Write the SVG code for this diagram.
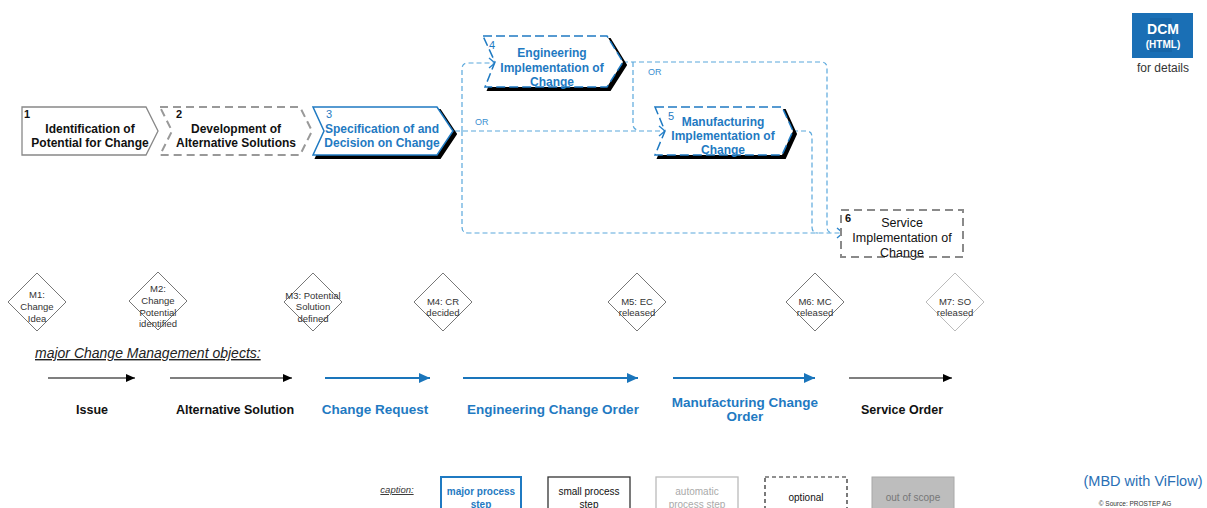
<svg xmlns="http://www.w3.org/2000/svg" width="1207" height="508" viewBox="0 0 1207 508">
<style>
text{font-family:"Liberation Sans",Arial,sans-serif}
.nb{font-size:12px;font-weight:bold;text-anchor:middle;fill:#111}
.nblue{font-size:12px;font-weight:bold;text-anchor:middle;fill:#1f7ac2}
.num{font-size:11px;font-weight:bold;fill:#111}
.numb{font-size:11px;fill:#1f7ac2}
.conn{fill:none;stroke:#5aa8dc;stroke-width:1.2;stroke-dasharray:5 3}
.or{font-size:9px;fill:#3b8fd0}
.dia{fill:#fff;stroke:#777;stroke-width:1}
.mt{font-size:9.5px;text-anchor:middle;fill:#333}
.ol{font-size:12.5px;font-weight:bold;text-anchor:middle;fill:#111}
.olb{font-size:13.5px;font-weight:bold;text-anchor:middle;fill:#1f7ac2}
.cap{font-size:10px;text-anchor:middle}
</style>
<defs>
<marker id="chev" markerWidth="10" markerHeight="12" refX="7" refY="6" orient="auto" markerUnits="userSpaceOnUse">
<path d="M1,1 L7,6 L1,11" fill="none" stroke="#2a85cc" stroke-width="1.4"/>
</marker>
<marker id="blk" markerWidth="10" markerHeight="10" refX="9" refY="5" orient="auto" markerUnits="userSpaceOnUse">
<path d="M0,1 L9,5 L0,9 Z" fill="#000"/>
</marker>
<marker id="blu" markerWidth="12" markerHeight="12" refX="11" refY="6" orient="auto" markerUnits="userSpaceOnUse">
<path d="M0,1 L11,6 L0,11 Z" fill="#1a75bb"/>
</marker>
</defs>
<rect width="1207" height="508" fill="#fff"/>

<g id="connectors">
<path class="conn" d="M455,131 H665" marker-end="url(#chev)"/>
<path class="conn" d="M462,131 V69 Q462,63 468,63 H495" marker-end="url(#chev)"/>
<path class="conn" d="M462,131 V227 Q462,233 468,233 H843" marker-end="url(#chev)"/>
<path class="conn" d="M623,62 H821 Q827,62 827,68 V227 Q827,233 833,233"/>
<path class="conn" d="M633,62 V124 Q633,130 639,130"/>
<path class="conn" d="M793,131 H806 Q812,131 812,137 V227 Q812,233 818,233"/>
<text class="or" x="475" y="125">OR</text>
<text class="or" x="648" y="75">OR</text>
</g>

<g id="node1">
<polygon points="22,107 146,107 158,131 146,155 22,155" fill="#fff" stroke="#888" stroke-width="1.3"/>
<text class="num" x="24" y="118">1</text>
<text class="nb" x="90" y="133">Identification of</text>
<text class="nb" x="90" y="147">Potential for Change</text>
</g>

<g id="node2">
<polygon points="160,107 300,107 312,131 300,155 160,155 172,131" fill="#fff" stroke="#999" stroke-width="2" stroke-dasharray="8 5"/>
<text class="num" x="176" y="118">2</text>
<text class="nb" x="236" y="133">Development of</text>
<text class="nb" x="236" y="147">Alternative Solutions</text>
</g>

<g id="node3">
<polygon points="316,110 440,110 456,134 440,158 316,158 327,134" fill="#000" stroke="#000" stroke-width="2"/>
<polygon points="313,107 437,107 453,131 437,155 313,155 324,131" fill="#fff" stroke="#1f7ac2" stroke-width="1.5"/>
<text class="numb" x="326" y="118">3</text>
<text class="nblue" x="382" y="133">Specification of and</text>
<text class="nblue" x="382" y="147">Decision on Change</text>
</g>

<g id="node4">
<polygon points="486,39 610,39 626,65 610,90 488,90 498,65" fill="#000" stroke="#000" stroke-width="2"/>
<polygon points="483,36 607,36 623,62 607,87 485,87 495,62" fill="#fff" stroke="#1f7ac2" stroke-width="1.5" stroke-dasharray="9 4"/>
<text class="numb" x="489" y="49">4</text>
<text class="nblue" x="552" y="57">Engineering</text>
<text class="nblue" x="552" y="72">Implementation of</text>
<text class="nblue" x="552" y="86">Change</text>
</g>

<g id="node5">
<polygon points="658,110 785,110 796,134 785,158 658,158 668,134" fill="#000" stroke="#000" stroke-width="2"/>
<polygon points="655,107 782,107 793,131 782,155 655,155 665,131" fill="#fff" stroke="#1f7ac2" stroke-width="1.5" stroke-dasharray="9 4"/>
<text class="numb" x="668" y="120">5</text>
<text class="nblue" x="723" y="126">Manufacturing</text>
<text class="nblue" x="723" y="140">Implementation of</text>
<text class="nblue" x="723" y="154">Change</text>
</g>

<g id="node6">
<rect x="841" y="210" width="122" height="47" fill="#fff" stroke="#8a8a8a" stroke-width="2" stroke-dasharray="8 5"/>
<text class="num" x="845" y="222">6</text>
<text x="902" y="227" font-size="12.5" text-anchor="middle" fill="#111">Service</text>
<text x="902" y="242" font-size="12.5" text-anchor="middle" fill="#111">Implementation of</text>
<text x="902" y="257" font-size="12.5" text-anchor="middle" fill="#111">Change</text>
</g>

<g id="m1">
<polygon class="dia" points="37,273 66,302 37,331 8,302"/>
<text class="mt" x="37" y="298">M1:</text>
<text class="mt" x="37" y="310">Change</text>
<text class="mt" x="37" y="322">Idea</text>
</g>
<g id="m2">
<polygon class="dia" points="158,272 187,301 158,330 129,301"/>
<text class="mt" x="158" y="292">M2:</text>
<text class="mt" x="158" y="304">Change</text>
<text class="mt" x="158" y="316">Potential</text>
<text class="mt" x="158" y="327">identified</text>
</g>
<g id="m3">
<polygon class="dia" points="313,273 342,302 313,331 284,302"/>
<text class="mt" x="313" y="299">M3: Potential</text>
<text class="mt" x="313" y="310">Solution</text>
<text class="mt" x="313" y="322">defined</text>
</g>
<g id="m4">
<polygon class="dia" points="443,273 472,302 443,331 414,302"/>
<text class="mt" x="443" y="305">M4: CR</text>
<text class="mt" x="443" y="316">decided</text>
</g>
<g id="m5">
<polygon class="dia" points="637,273 666,302 637,331 608,302"/>
<text class="mt" x="637" y="305">M5: EC</text>
<text class="mt" x="637" y="316">released</text>
</g>
<g id="m6">
<polygon class="dia" points="815,273 844,302 815,331 786,302"/>
<text class="mt" x="815" y="305">M6: MC</text>
<text class="mt" x="815" y="316">released</text>
</g>
<g id="m7">
<polygon class="dia" points="955,273 984,302 955,331 926,302" style="stroke:#bbb"/>
<text class="mt" x="955" y="305">M7: SO</text>
<text class="mt" x="955" y="316">released</text>
</g>

<g id="objects">
<text x="35" y="358" font-size="14" font-style="italic" fill="#222" text-decoration="underline">major Change Management objects:</text>
<line x1="48" y1="378" x2="135" y2="378" stroke="#000" stroke-width="1.2" marker-end="url(#blk)"/>
<line x1="170" y1="378" x2="292" y2="378" stroke="#000" stroke-width="1.2" marker-end="url(#blk)"/>
<line x1="325" y1="378" x2="430" y2="378" stroke="#1a75bb" stroke-width="2.2" marker-end="url(#blu)"/>
<line x1="463" y1="378" x2="638" y2="378" stroke="#1a75bb" stroke-width="2.2" marker-end="url(#blu)"/>
<line x1="673" y1="378" x2="815" y2="378" stroke="#1a75bb" stroke-width="2.2" marker-end="url(#blu)"/>
<line x1="849" y1="378" x2="952" y2="378" stroke="#000" stroke-width="1.2" marker-end="url(#blk)"/>
<text class="ol" x="92" y="414">Issue</text>
<text class="ol" x="235" y="414">Alternative Solution</text>
<text class="olb" x="375" y="414">Change Request</text>
<text class="olb" x="553" y="414">Engineering Change Order</text>
<text class="olb" x="745" y="407">Manufacturing Change</text>
<text class="olb" x="745" y="421">Order</text>
<text class="ol" x="902" y="414">Service Order</text>
</g>

<g id="dcm">
<rect x="1132" y="13" width="61" height="45" fill="#1a6fb5"/>
<rect x="1150" y="18" width="22" height="34" fill="#1766a8"/>
<text x="1163" y="34" font-size="14" font-weight="bold" fill="#fff" text-anchor="middle">DCM</text>
<text x="1163" y="48" font-size="10" font-weight="bold" fill="#fff" text-anchor="middle">(HTML)</text>
<text x="1163" y="72" font-size="12" fill="#333" text-anchor="middle">for details</text>
</g>

<g id="caption">
<text x="397" y="493" font-size="9.5" font-style="italic" fill="#333" text-anchor="middle" text-decoration="underline">caption:</text>
<rect x="441" y="477" width="80" height="36" fill="#fff" stroke="#1f7ac2" stroke-width="2"/>
<text class="cap" x="481" y="495" fill="#1f7ac2" font-weight="bold">major process</text>
<text class="cap" x="481" y="508" fill="#1f7ac2" font-weight="bold">step</text>
<rect x="548" y="477" width="82" height="36" fill="#fff" stroke="#333" stroke-width="1.3"/>
<text class="cap" x="589" y="495" fill="#111">small process</text>
<text class="cap" x="589" y="508" fill="#111">step</text>
<rect x="656" y="477" width="82" height="36" fill="#fff" stroke="#bbb" stroke-width="1.3"/>
<text class="cap" x="697" y="495" fill="#aaa">automatic</text>
<text class="cap" x="697" y="508" fill="#aaa">process step</text>
<rect x="765" y="477" width="82" height="36" fill="#fff" stroke="#222" stroke-width="1.2" stroke-dasharray="4 3"/>
<text class="cap" x="806" y="501" fill="#111">optional</text>
<rect x="872" y="477" width="82" height="36" fill="#bdbdbd" stroke="#a8a8a8" stroke-width="1"/>
<text class="cap" x="913" y="501" fill="#777">out of scope</text>
</g>

<g id="footer">
<text x="1143" y="486" font-size="14.5" fill="#2a6fb5" text-anchor="middle">(MBD with ViFlow)</text>
<text x="1135" y="506" font-size="6.5" fill="#333" text-anchor="middle">© Source: PROSTEP AG</text>
</g>
</svg>
